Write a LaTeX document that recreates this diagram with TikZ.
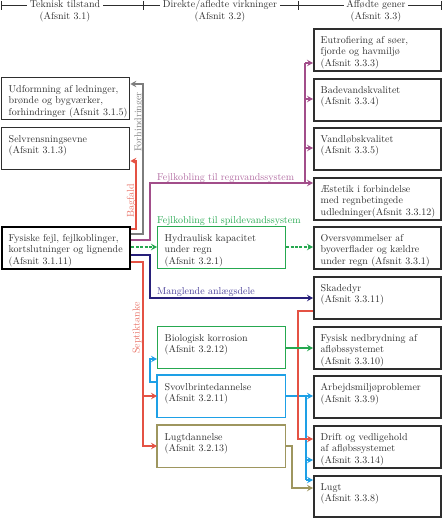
\documentclass[tikz,border=0pt]{standalone}
\usepackage{fontspec}
\usetikzlibrary{arrows.meta}
\definecolor{cgray}{RGB}{125,125,125}
\definecolor{cred}{RGB}{228,82,68}
\definecolor{credt}{RGB}{232,112,100}
\definecolor{cpur}{RGB}{162,78,138}
\definecolor{cpurt}{RGB}{178,108,162}
\definecolor{cgreen}{RGB}{38,168,80}
\definecolor{cnavy}{RGB}{40,32,122}
\definecolor{cnavyt}{RGB}{72,62,152}
\definecolor{cblue}{RGB}{30,160,230}
\definecolor{colive}{RGB}{158,150,95}
\definecolor{ctext}{RGB}{45,45,45}
\begin{document}
\begin{tikzpicture}[x=1pt,y=-1pt,
  font=\fontsize{10}{11.7}\selectfont, text=ctext,
  every node/.style={inner sep=0pt},
  lbl/.style={anchor=north west, align=left, xshift=7.5pt, yshift=-8pt, text=ctext},
  txt/.style={label={[lbl]north west:{#1}}},
  boxbase/.style={rectangle, anchor=north west, minimum width=128pt, minimum height=42pt},
  rbox/.style={boxbase, minimum width=127pt, draw=black!82, line width=1.8pt},
  lbox/.style={boxbase, draw=black!82, line width=1.4pt},
  fbox/.style={boxbase, draw=black, line width=2.4pt},
  gbox/.style={boxbase, draw=cgreen, line width=1.1pt},
  frame/.style={line width=1.4pt},
  arr/.style={-{Stealth[length=6pt,width=6.5pt,inset=2.2pt]}},
  conn/.style={line width=1.2pt, arr},
  gdash/.style={dash pattern=on 3pt off 1.4pt},
  hdr/.style={fill=white, inner xsep=2.5pt, inner ysep=1pt, anchor=base},
]
\useasboundingbox (0,0) rectangle (442,518);

% header
\draw[ctext, line width=0.7pt] (1,5) -- (441,5);
\foreach \x in {1,143,298,441} \draw[ctext, line width=0.7pt] (\x,1) -- (\x,10);
\node[hdr] (h1) at (65,8) {Teknisk tilstand};
\node[anchor=base] (h1b) at (65,19.5) {(Afsnit 3.1)};
\node[hdr] (h2) at (220,8) {Direkte/afledte virkninger};
\node[anchor=base] (h2b) at (220,19.5) {(Afsnit 3.2)};
\node[hdr] (h3) at (376,8) {Affødte gener};
\node[anchor=base] (h3b) at (376,19.5) {(Afsnit 3.3)};

% left column
\node[lbox, txt={Udformning af ledninger,\\brønde og bygværker,\\forhindringer (Afsnit 3.1.5)}] (udf) at (1,77) {};
\node[lbox, txt={Selvrensningsevne\\(Afsnit 3.1.3)}] (selv) at (1,127) {};
\node[fbox, txt={Fysiske fejl, fejlkoblinger,\\kortslutninger og lignende\\(Afsnit 3.1.11)}] (fys) at (1,226) {};

% middle column
\node[gbox, txt={Hydraulisk kapacitet\\under regn\\(Afsnit 3.2.1)}] (hyd) at (157,226) {};
\node[gbox, txt={Biologisk korrosion\\(Afsnit 3.2.12)}] (bio) at (157,326) {};
\node[boxbase, txt={Svovlbrintedannelse\\(Afsnit 3.2.11)}] (svo) at (157,375) {};
\draw[frame, draw=cblue] (svo.north west) rectangle (svo.south east);
\node[boxbase, txt={Lugtdannelse\\(Afsnit 3.2.13)}] (lugd) at (157,425) {};
\draw[frame, draw=colive] (lugd.north west) rectangle (lugd.south east);

% right column
\node[rbox, txt={Eutrofiering af søer,\\fjorde og havmiljø\\(Afsnit 3.3.3)}] (eut) at (313,28) {};
\node[rbox, txt={Badevandskvalitet\\(Afsnit 3.3.4)}] (bad) at (313,78) {};
\node[rbox, txt={Vandløbskvalitet\\(Afsnit 3.3.5)}] (vand) at (313,127) {};
\node[rbox, txt={Æstetik i forbindelse\\med regnbetingede\\udledninger(Afsnit 3.3.12)}] (aest) at (313,177) {};
\node[rbox, txt={Oversvømmelser af\\byoverflader og kældre\\under regn (Afsnit 3.3.1)}] (over) at (313,226) {};
\node[rbox, txt={Skadedyr\\(Afsnit 3.3.11)}] (skad) at (313,276) {};
\node[rbox, txt={Fysisk nedbrydning af\\afløbssystemet\\(Afsnit 3.3.10)}] (fysn) at (313,326) {};
\node[rbox, txt={Arbejdsmiljøproblemer\\(Afsnit 3.3.9)}] (arb) at (313,375) {};
\node[rbox, txt={Drift og vedligehold\\af afløbssystemet\\(Afsnit 3.3.14)}] (drift) at (313,425) {};
\node[rbox, txt={Lugt\\(Afsnit 3.3.8)}, minimum height=41pt] (lugt) at (313,475) {};

% Forhindringer (gray)
\draw[conn, cgray] (fys.east |- 0,234) -- (143,234) -- (143,84) -- (udf.east |- 0,84);
\node[rotate=90, text=cgray] (lforh) at (139,122) {Forhindringer};

% Bagfald (red)
\draw[conn, cred] (fys.east |- 0,229) -- (136,229) -- (136,161) -- (selv.east |- 0,161);
\node[rotate=90, text=credt] (lbag) at (131.5,201) {Bagfald};

% Fejlkobling til regnvandssystem (purple)
\draw[conn, cpur] (fys.east |- 0,240) -- (150,240) -- (150,183) -- (aest.west |- 0,183);
\draw[line width=1.2pt, cpur] (305,183) -- (305,63);
\draw[conn, cpur] (305,63) -- (eut.west |- 0,63);
\draw[conn, cpur] (305,99) -- (bad.west |- 0,99);
\draw[conn, cpur] (305,148) -- (vand.west |- 0,148);
\node[anchor=base west, text=cpurt] (lregn) at (157,180.5) {Fejlkobling til regnvandssystem};

% Fejlkobling til spildevandssystem (green dashed)
\draw[conn, cgreen, gdash] (fys.east |- 0,247) -- (hyd.west |- 0,247);
\draw[conn, cgreen, gdash] (hyd.east |- 0,247) -- (over.west |- 0,247);
\node[anchor=base west, text=cgreen] (lspild) at (157,223) {Fejlkobling til spildevandssystem};

% Manglende anlægsdele (navy)
\draw[conn, cnavy] (fys.east |- 0,255) -- (150,255) -- (150,298) -- (skad.west |- 0,298);
\node[anchor=base west, text=cnavyt] (lmangl) at (157,294.5) {Manglende anlægsdele};

% Septiktanke (red)
\draw[conn, cred] (fys.east |- 0,262) -- (143,262) -- (143,446) -- (lugd.west |- 0,446);
\draw[conn, cred] (143,396) -- (svo.west |- 0,396);
\node[rotate=90, text=credt] (lsept) at (137,328) {Septiktanke};

% Svovlbrinte -> biologisk korrosion (blue)
\draw[conn, cblue] (svo.west |- 0,382) -- (150,382) -- (150,359) -- (bio.west |- 0,359);

% Svovlbrinte -> right (blue)
\draw[conn, cblue] (svo.east |- 0,396) -- (arb.west |- 0,396);
\draw[line width=1.2pt, cblue] (306,396) -- (306,480);
\draw[conn, cblue] (306,460) -- (drift.west |- 0,460);
\draw[conn, cblue] (306,480) -- (lugt.west |- 0,480);

% Lugtdannelse -> Lugt (olive)
\draw[conn, colive] (lugd.east |- 0,446) -- (292,446) -- (292,488) -- (lugt.west |- 0,488);

% Skadedyr -> Drift (red)
\draw[conn, cred] (skad.west |- 0,311) -- (298,311) -- (298,439) -- (drift.west |- 0,439);

% Biologisk korrosion -> Fysisk nedbrydning (green)
\draw[conn, cgreen] (bio.east |- 0,348) -- (fysn.west |- 0,348);
\end{tikzpicture}
\end{document}
